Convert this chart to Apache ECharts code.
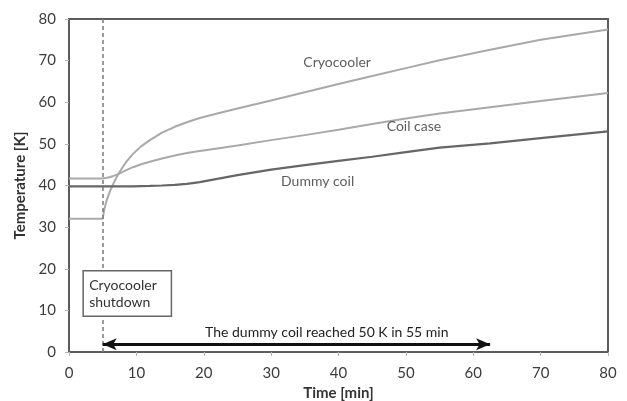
<!DOCTYPE html>
<html>
<head>
<meta charset="utf-8">
<script src="https://cdn.jsdelivr.net/npm/echarts@6/dist/echarts.min.js"></script>
<style>
  html, body { margin: 0; padding: 0; background: #fff; }
  #chart { width: 627px; height: 401px; }
</style>
</head>
<body>
<div id="chart"></div>
<script>
// Time after start of the run [min]
const timeMin = [0, 5, 5.2, 5.6, 6.1, 6.6, 7.1, 7.6, 8.5, 9.5, 10.7, 12, 13.8, 15.7, 17.5, 19.4, 22, 25, 30, 35, 40, 45, 50, 55, 62.5, 70, 80];
// Temperatures [K]
const cryocooler = [32, 32, 34, 36.5, 38.7, 40.5, 42.1, 43.5, 45.7, 47.6, 49.4, 50.9, 52.7, 54.1, 55.2, 56.2, 57.3, 58.5, 60.4, 62.4, 64.4, 66.3, 68.2, 70.1, 72.6, 75.0, 77.5];
const coilCase   = [41.7, 41.7, 41.75, 41.85, 42.05, 42.3, 42.6, 42.95, 43.7, 44.4, 45.1, 45.7, 46.5, 47.2, 47.8, 48.3, 48.9, 49.6, 50.9, 52.1, 53.4, 54.8, 56.1, 57.3, 58.8, 60.3, 62.2];
const dummyCoil  = [39.8, 39.8, 39.8, 39.8, 39.8, 39.8, 39.8, 39.8, 39.8, 39.8, 39.85, 39.9, 40.0, 40.15, 40.4, 40.8, 41.6, 42.5, 43.8, 44.9, 45.9, 46.9, 48.0, 49.1, 50.1, 51.4, 53.0];

// Axis ticks
const xTicks = { min: 0, max: 80, interval: 10 };
const yTicks = { min: 0, max: 80, interval: 10 };

// Event markers
const shutdownTime = 5;
const reachedTime = 62.5;
const arrowLevel = 1.85;

// Curve labels [time, temperature, text]
const curveLabels = [
  [39.8, 69.5, 'Cryocooler'],
  [51.2, 54.1, 'Coil case'],
  [36.9, 40.9, 'Dummy coil']
];

const annotationText = 'The dummy coil reached 50 K in 55 min';
const shutdownText = ['Cryocooler', 'shutdown'];

const pairs = (vals) => timeMin.map((t, i) => [t, vals[i]]);

const FONT = 'Lato, "Open Sans", sans-serif';
const axisColor = '#5c5c5c';

const chart = echarts.init(document.getElementById('chart'), null, { renderer: 'canvas' });

const option = {
  animation: false,
  backgroundColor: '#ffffff',
  grid: {
    left: 69, right: 19, top: 19, bottom: 49,
    outerBoundsMode: 'none',
    containLabel: false,
    show: true, borderColor: axisColor, borderWidth: 2, backgroundColor: 'transparent'
  },
  xAxis: {
    type: 'value',
    min: xTicks.min, max: xTicks.max, interval: xTicks.interval,
    name: 'Time [min]',
    nameLocation: 'middle',
    nameGap: 31,
    nameTextStyle: { fontFamily: FONT, fontSize: 15, fontWeight: 'bold', color: '#333' },
    axisLine: { show: true, lineStyle: { color: axisColor, width: 2 } },
    axisTick: { show: true, length: 4, inside: false, lineStyle: { color: '#b5b5b5', width: 1 } },
    axisLabel: { fontFamily: FONT, fontSize: 15, color: '#3c3c3c', margin: 14 },
    splitLine: { show: false }
  },
  yAxis: {
    type: 'value',
    min: yTicks.min, max: yTicks.max, interval: yTicks.interval,
    name: 'Temperature [K]',
    nameLocation: 'middle',
    nameGap: 40,
    nameTextStyle: { fontFamily: FONT, fontSize: 15, fontWeight: 'bold', color: '#333' },
    axisLine: { show: true, lineStyle: { color: axisColor, width: 2 } },
    axisTick: { show: true, length: 4, inside: false, lineStyle: { color: '#b5b5b5', width: 1 } },
    axisLabel: { fontFamily: FONT, fontSize: 15, color: '#3c3c3c', margin: 13 },
    splitLine: { show: false }
  },
  series: [
    {
      name: 'Cryocooler', type: 'line', data: pairs(cryocooler),
      smooth: false, showSymbol: false, symbol: 'none',
      lineStyle: { color: '#a9a9a9', width: 2 }, z: 3
    },
    {
      name: 'Coil case', type: 'line', data: pairs(coilCase),
      smooth: false, showSymbol: false, symbol: 'none',
      lineStyle: { color: '#a9a9a9', width: 2 }, z: 3
    },
    {
      name: 'Dummy coil', type: 'line', data: pairs(dummyCoil),
      smooth: false, showSymbol: false, symbol: 'none',
      lineStyle: { color: '#666666', width: 2.2 }, z: 4
    },
    {
      // vertical event markers and the elapsed-time arrow
      name: 'markers', type: 'line', data: [], silent: true,
      markLine: {
        silent: true, animation: false,
        label: { show: false },
        data: [
          [
            { coord: [shutdownTime, 0], symbol: 'none', lineStyle: { color: '#7a7a7a', width: 1.5, type: [4, 3] } },
            { coord: [shutdownTime, 80], symbol: 'none' }
          ],
          [
            { coord: [reachedTime, 0], symbol: 'none', lineStyle: { color: '#7a7a7a', width: 1.5, type: [4, 3] } },
            { coord: [reachedTime, 81], symbol: 'none' }
          ],
          [
            { coord: [shutdownTime, arrowLevel], symbol: 'arrow', symbolSize: [9, 14], lineStyle: { color: '#111', width: 3, type: 'solid' } },
            { coord: [reachedTime, arrowLevel], symbol: 'arrow', symbolSize: [9, 14] }
          ]
        ]
      },
      z: 2
    },
    {
      name: 'labels', type: 'scatter', data: curveLabels, symbolSize: 0, silent: true,
      label: {
        show: true, position: 'inside',
        formatter: (p) => p.data[2],
        fontFamily: FONT, fontSize: 14, color: '#333'
      },
      z: 6
    }
  ]
};

chart.setOption(option);

// Shutdown note box and the arrow caption, positioned through the axes
const boxTL = chart.convertToPixel({ gridIndex: 0 }, [2.1, 19.5]);
const boxBR = chart.convertToPixel({ gridIndex: 0 }, [15.2, 8.6]);
const capPos = chart.convertToPixel({ gridIndex: 0 }, [20.2, 4.6]);

chart.setOption({
  graphic: [
    {
      type: 'rect', z: 10,
      shape: { x: boxTL[0], y: boxTL[1], width: boxBR[0] - boxTL[0], height: boxBR[1] - boxTL[1] },
      style: { fill: '#fff', stroke: '#666', lineWidth: 1.5 }
    },
    {
      type: 'text', z: 11,
      x: boxTL[0] + 6, y: boxTL[1] + 6,
      style: {
        text: shutdownText.join('\n'), fontFamily: FONT, fontSize: 14, fill: '#333',
        lineHeight: 17, align: 'left', verticalAlign: 'top'
      }
    },
    {
      type: 'text', z: 11,
      x: capPos[0], y: capPos[1],
      style: {
        text: annotationText, fontFamily: FONT, fontSize: 14, fill: '#222',
        align: 'left', verticalAlign: 'middle'
      }
    }
  ]
});
</script>
</body>
</html>
